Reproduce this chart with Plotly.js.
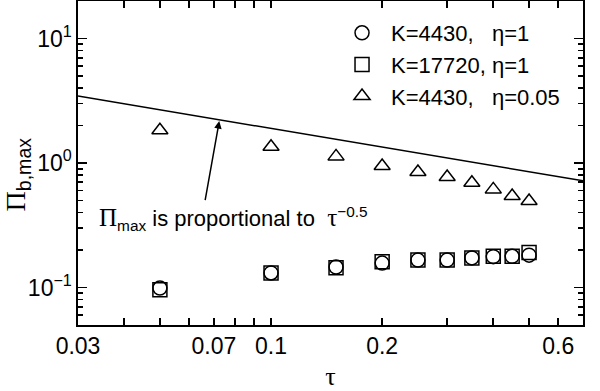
<!DOCTYPE html>
<html>
<head>
<meta charset="utf-8">
<script src="https://cdn.plot.ly/plotly-3.0.1.min.js"></script>
<style>html,body{margin:0;padding:0;background:#fff;}#chart{width:600px;height:391px;}</style>
</head>
<body>
<div id="chart"></div>
<script>
// Data
const tau = [0.05, 0.1, 0.15, 0.2, 0.25, 0.3, 0.35, 0.4, 0.45, 0.5];
const piK4430Eta1 = [0.099, 0.131, 0.146, 0.157, 0.166, 0.166, 0.173, 0.177, 0.178, 0.182];
const piK17720Eta1 = [0.096, 0.131, 0.144, 0.161, 0.166, 0.166, 0.173, 0.178, 0.178, 0.191];
const piK4430Eta005 = [1.83, 1.35, 1.13, 0.946, 0.847, 0.772, 0.695, 0.614, 0.543, 0.496];
const refLineTau = [0.03, 0.7];
const refLinePi = [3.45, 0.72];
const seriesNames = ['K=4430,\u00a0\u00a0\u00a0\u03b7=1', 'K=17720,\u00a0\u03b7=1', 'K=4430,\u00a0\u00a0\u00a0\u03b7=0.05'];
const xTickVals = [0.03, 0.04, 0.05, 0.06, 0.07, 0.08, 0.09, 0.1, 0.2, 0.3, 0.4, 0.5, 0.6, 0.7];
const xTickText = ['0.03', ' ', ' ', ' ', '0.07', ' ', ' ', '0.1', '0.2', ' ', ' ', ' ', '0.6', ' '];
const yMajorVals = [0.1, 1, 10];
const yMajorText = ['10<sup>\u22121</sup>', '10<sup>0</sup>', '10<sup>1</sup>'];
const yMinorVals = [0.05, 0.06, 0.07, 0.08, 0.09, 0.2, 0.3, 0.4, 0.5, 0.6, 0.7, 0.8, 0.9, 2, 3, 4, 5, 6, 7, 8, 9, 20];

const SANS = 'Arial, Liberation Sans, sans-serif';
const mk = (symbol) => ({symbol: symbol, size: 14, color: 'rgba(255,255,255,0)', line: {color: '#000', width: 1.5}});

const traces = [
  {x: refLineTau, y: refLinePi, mode: 'lines', line: {color: '#000', width: 1.5}, showlegend: false, hoverinfo: 'skip'},
  {x: tau, y: piK4430Eta1, mode: 'markers', name: seriesNames[0], marker: mk('circle')},
  {x: tau, y: piK17720Eta1, mode: 'markers', name: seriesNames[1], marker: mk('square')},
  {x: tau, y: piK4430Eta005, mode: 'markers', name: seriesNames[2], marker: mk('triangle-up')},
  // invisible helper trace carrying the minor-tick axis
  {x: [0.03], y: [1], yaxis: 'y2', mode: 'markers', marker: {opacity: 0}, showlegend: false, hoverinfo: 'skip'}
];

const layout = {
  width: 600, height: 391,
  margin: {l: 78, r: 17, t: 1, b: 66},
  paper_bgcolor: '#fff', plot_bgcolor: '#fff',
  font: {family: SANS, color: '#000', size: 20},
  showlegend: true,
  legend: {x: 0.505, y: 0.966, xanchor: 'left', yanchor: 'top', bgcolor: 'rgba(0,0,0,0)',
           font: {family: SANS, size: 22, color: '#000'}, itemwidth: 48, tracegroupgap: 0},
  xaxis: {
    type: 'log', range: [Math.log10(0.03), Math.log10(0.7)],
    tickmode: 'array', tickvals: xTickVals, ticktext: xTickText, tickangle: 0,
    ticks: 'inside', ticklen: 7, tickwidth: 1.6, tickcolor: '#000',
    showline: true, linecolor: '#000', linewidth: 1.6, mirror: 'ticks',
    showgrid: false, zeroline: false,
    tickfont: {family: SANS, size: 23, color: '#000'},
    title: {text: '<span style="font-family:Liberation Serif, serif">\u03c4</span>', font: {size: 26, family: SANS}, standoff: 14}
  },
  yaxis: {
    type: 'log', range: [Math.log10(0.05), Math.log10(20)],
    tickmode: 'array', tickvals: yMajorVals, ticktext: yMajorText,
    ticks: 'inside', ticklen: 9, tickwidth: 1.6, tickcolor: '#000',
    showline: true, linecolor: '#000', linewidth: 1.6, mirror: 'ticks',
    showgrid: false, zeroline: false,
    tickfont: {family: SANS, size: 23, color: '#000'},
    title: {text: '<span style="font-family:Liberation Serif, serif">\u03a0</span><sub>b,max</sub><span>\u00a0\u00a0\u00a0</span>', font: {size: 28, family: SANS}, standoff: 1}
  },
  yaxis2: {
    type: 'log', range: [Math.log10(0.05), Math.log10(20)], overlaying: 'y', side: 'left',
    tickmode: 'array', tickvals: yMinorVals, ticktext: yMinorVals.map(() => ' '),
    ticks: 'inside', ticklen: 5, tickwidth: 1.6, tickcolor: '#000',
    showline: false, mirror: 'ticks', showgrid: false, zeroline: false
  },
  annotations: [
    {xref: 'paper', yref: 'paper', x: 0.037, y: 0.33, xanchor: 'left', yanchor: 'middle', showarrow: false,
     text: '<span style="font-family:Liberation Serif, serif;font-size:25px">\u03a0</span><sub>max</sub> is proportional to \u00a0<span style="font-family:Liberation Serif, serif;font-size:25px">\u03c4</span><sup>\u22120.5</sup>',
     font: {family: SANS, size: 22, color: '#000'}},
    {xref: 'x', yref: 'y', axref: 'x', ayref: 'y', x: Math.log10(0.0724), y: Math.log10(2.17), ax: Math.log10(0.0662), ay: Math.log10(0.489),
     text: '', showarrow: true, arrowhead: 2, arrowsize: 1, arrowwidth: 1.5, arrowcolor: '#000'}
  ]
};

Plotly.newPlot('chart', traces, layout, {displayModeBar: false, staticPlot: true});
</script>
</body>
</html>
